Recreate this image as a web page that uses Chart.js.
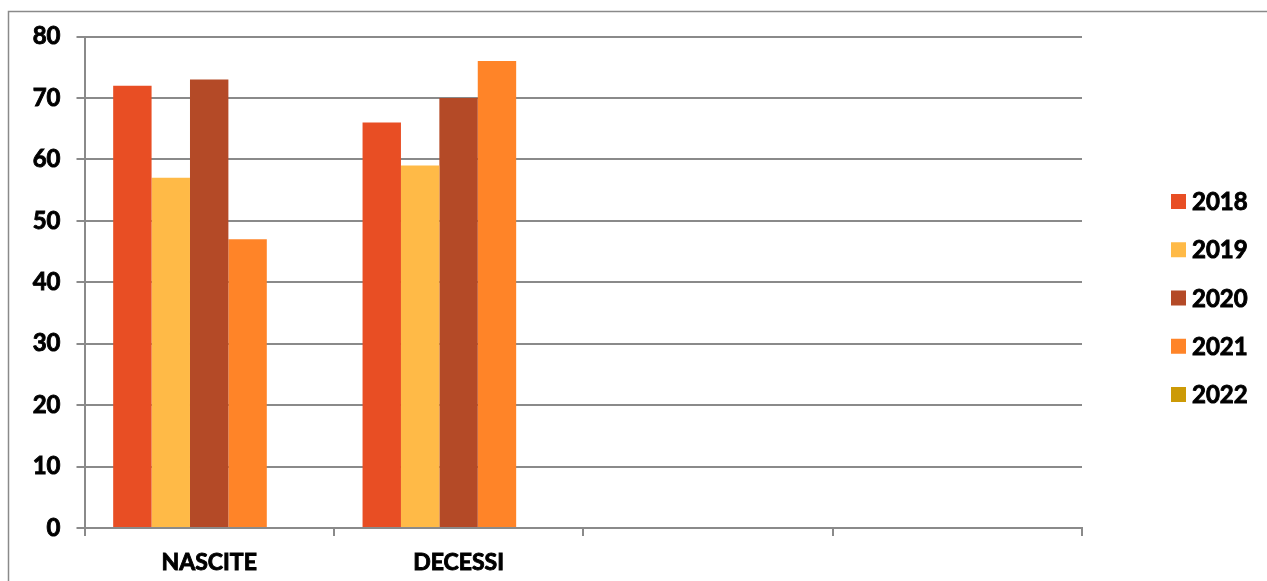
<!DOCTYPE html>
<html>
<head>
<meta charset="utf-8">
<script src="https://cdn.jsdelivr.net/npm/chart.js@4/dist/chart.umd.min.js"></script>
<style>
  html, body { margin: 0; padding: 0; background: #ffffff; }
  #wrap { width: 1267px; height: 581px; }
</style>
</head>
<body>
<div id="wrap"><canvas id="chart" width="1267" height="581"></canvas></div>
<script>
// Categories on the x axis (the last two slots are empty)
const categories = ['NASCITE', 'DECESSI', '', ''];

// Yearly series
const years = ['2018', '2019', '2020', '2021', '2022'];
const values2018 = [72, 66, null, null];
const values2019 = [57, 59, null, null];
const values2020 = [73, 70, null, null];
const values2021 = [47, 76, null, null];
const values2022 = [null, null, null, null];

// Y axis ticks
const yMin = 0;
const yMax = 80;
const yStep = 10;

const colors = ['#E84E24', '#FFBA47', '#B44A27', '#FF8428', '#CC9A06'];
const seriesValues = [values2018, values2019, values2020, values2021, values2022];

const FONT = 'Lato, "Open Sans", sans-serif';
const GRID = '#8a8a8a';
const STROKE = 0.9;   // extra weight on the bold labels

// Outer frame, partly cut off at the right and bottom
const framePlugin = {
  id: 'frame',
  beforeDraw(chart) {
    const ctx = chart.ctx;
    ctx.save();
    ctx.fillStyle = '#ffffff';
    ctx.fillRect(0, 0, chart.width, chart.height);
    ctx.strokeStyle = GRID;
    ctx.lineWidth = 1.5;
    ctx.beginPath();
    ctx.moveTo(8.5, chart.height + 5);
    ctx.lineTo(8.5, 11.5);
    ctx.lineTo(chart.width + 5, 11.5);
    ctx.stroke();
    ctx.restore();
  }
};

// Vertical legend on the right
const sideLegend = {
  id: 'sideLegend',
  afterDraw(chart) {
    const ctx = chart.ctx;
    ctx.save();
    ctx.font = 'bold 24px ' + FONT;
    ctx.textBaseline = 'middle';
    ctx.textAlign = 'left';
    ctx.lineWidth = STROKE;
    ctx.strokeStyle = '#000000';
    chart.data.datasets.forEach((ds, i) => {
      const cy = 201.5 + i * 48.25;
      ctx.fillStyle = ds.backgroundColor;
      ctx.fillRect(1171, cy - 7.5, 15, 15);
      ctx.fillStyle = '#000000';
      ctx.strokeText(ds.label, 1192, cy + 1);
      ctx.fillText(ds.label, 1192, cy + 1);
    });
    ctx.restore();
  }
};

const datasets = years.map((y, i) => ({
  label: y,
  data: seriesValues[i],
  backgroundColor: colors[i],
  borderWidth: 0,
  categoryPercentage: 0.77,
  barPercentage: 1.0
}));

new Chart(document.getElementById('chart'), {
  type: 'bar',
  data: { labels: categories, datasets },
  plugins: [framePlugin, sideLegend],
  options: {
    responsive: false,
    animation: false,
    layout: { padding: { left: 0, top: 36.5, right: 185, bottom: 0 } },
    plugins: {
      legend: { display: false },
      tooltip: { enabled: false }
    },
    scales: {
      x: {
        afterFit(scale) { scale.height = 53; },
        grid: {
          offset: true,
          drawOnChartArea: false,
          drawTicks: true,
          tickLength: 8,
          color: GRID,
          lineWidth: 2
        },
        border: { display: true, color: GRID, width: 2 },
        ticks: {
          color: '#000000',
          padding: 13,
          textStrokeColor: '#000000',
          textStrokeWidth: STROKE,
          font: { family: FONT, size: 23, weight: 'bold' }
        }
      },
      y: {
        min: yMin,
        max: yMax,
        afterFit(scale) { scale.width = 84.5; },
        grid: {
          color: GRID,
          lineWidth: 2,
          tickLength: 8,
          drawTicks: true
        },
        border: { display: true, color: GRID, width: 2 },
        ticks: {
          stepSize: yStep,
          color: '#000000',
          padding: 16,
          textStrokeColor: '#000000',
          textStrokeWidth: STROKE,
          font: { family: FONT, size: 24, weight: 'bold' }
        }
      }
    }
  }
});
</script>
</body>
</html>
